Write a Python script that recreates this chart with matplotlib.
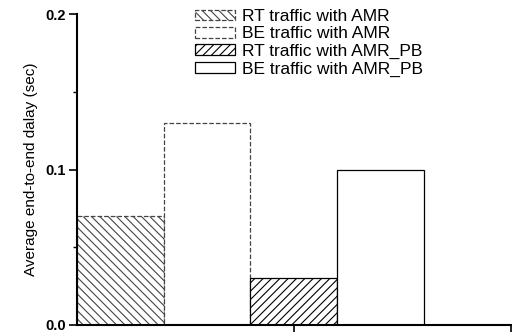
import matplotlib
matplotlib.use('Agg')
import matplotlib.pyplot as plt

labels = ['RT traffic with AMR', 'BE traffic with AMR',
          'RT traffic with AMR_PB', 'BE traffic with AMR_PB']
delays = [0.07, 0.13, 0.03, 0.10]
positions = [0.2, 0.6, 1.0, 1.4]
hatches = ['\\\\\\\\', '', '////', '']
linestyles = ['--', '--', '-', '-']
edgecolors = ['#444444', '#444444', 'black', 'black']

plt.rcParams['font.family'] = ['Liberation Sans', 'DejaVu Sans']
plt.rcParams['hatch.linewidth'] = 0.8

fig = plt.figure(figsize=(5.12, 3.35), dpi=100)
ax = fig.add_axes([0.150, 0.030, 0.848, 0.928])

for x, h, lab, hat, ls, ec in zip(positions, delays, labels, hatches, linestyles, edgecolors):
    ax.bar(x, h, width=0.4, facecolor='white', edgecolor=ec, hatch=hat,
           linestyle=ls, linewidth=0.9, label=lab)

ax.set_xlim(0, 2)
ax.set_ylim(0, 0.2)
ax.set_xticks([1, 2])
ax.set_xticklabels(['', ''])
ax.set_yticks([0.0, 0.1, 0.2])
ax.set_yticklabels(['0.0', '0.1', '0.2'], fontweight='bold', fontsize=10.5)
ax.set_yticks([0.05, 0.15], minor=True)
ax.tick_params(axis='y', which='major', direction='out', length=6, width=1.2, pad=2)
ax.tick_params(axis='y', which='minor', direction='out', length=3, width=1)
ax.tick_params(axis='x', which='major', direction='out', length=5, width=1.2)
ax.spines['top'].set_visible(False)
ax.spines['right'].set_visible(False)
ax.spines['left'].set_linewidth(1.5)
ax.spines['bottom'].set_linewidth(1.5)
ax.set_ylabel('Average end-to-end dalay (sec)', fontsize=11, labelpad=5)

ax.legend(loc='upper left', bbox_to_anchor=(195 / 512, 1 - 9 / 335),
          bbox_transform=fig.transFigure, frameon=False, fontsize=12.5,
          handlelength=2.3, handleheight=0.57, labelspacing=0.14,
          handletextpad=0.4, borderpad=0, borderaxespad=0)

fig.savefig('out.png', dpi=100)
